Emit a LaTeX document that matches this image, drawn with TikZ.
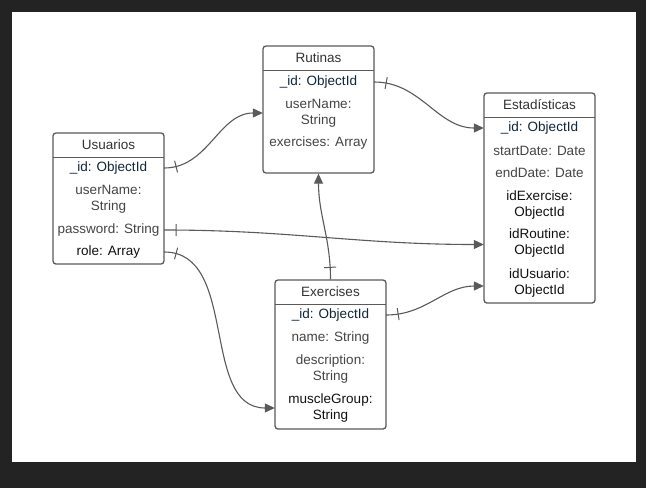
\documentclass[tikz,border=0pt]{standalone}
\usepackage{fontspec}
\setmainfont{Liberation Sans}
\usetikzlibrary{arrows.meta,decorations.markings}
\definecolor{bgdark}{HTML}{232323}
\definecolor{edge}{HTML}{5A5A5A}
\definecolor{ttlc}{HTML}{333333}
\definecolor{idc}{HTML}{10263A}
\definecolor{fldc}{HTML}{454545}
\definecolor{blk}{HTML}{111111}
\tikzset{
    tbl/.style={draw=edge, line width=1.3pt, rounded corners=3pt, minimum width=111pt, inner sep=0pt},
    ttl/.style={anchor=north, minimum width=111pt, minimum height=25pt, inner sep=0pt, text=ttlc},
    fld/.style={minimum width=111pt, inner sep=0pt, align=center, text=fldc, yshift=-1pt},
    idf/.style={fld, text=idc},
    keyf/.style={fld, text=blk},
    onebar/.style={postaction={decorate, decoration={markings,
        mark=at position 12pt with {\draw[-, edge, line width=1pt] (0pt,-6pt) -- (0pt,6pt);}}}},
    conn/.style={draw=edge, line width=1.1pt, -{Triangle[length=10pt,width=9pt]}, onebar}
}
\begin{document}
\begin{tikzpicture}[x=1pt, y=-1pt, font=\fontsize{13.5}{16}\selectfont]
        \fill[bgdark] (0,0) rectangle (646,488);
        \fill[white] (12,12) rectangle (636,462);
        \useasboundingbox (0,0) rectangle (646,488);

        \node(usu) at (108.5,198.5) [tbl, minimum height=131pt]{};
        \node(usu-t) at (usu.north) [ttl]{Usuarios};
        \draw[edge, line width=1.3pt] (usu-t.south west) -- (usu-t.south east);
        \node(usu-id) at (108.5,167) [idf]{\_id: ObjectId};
        \node(usu-name) at (108.5,198) [fld]{userName:\\String};
        \node(usu-pw) at (108.5,229) [fld]{password: String};
        \node(usu-role) at (108.5,251) [keyf]{role: Array};

        \node(rut) at (318.5,109.5) [tbl, minimum height=127pt]{};
        \node(rut-t) at (rut.north) [ttl]{Rutinas};
        \draw[edge, line width=1.3pt] (rut-t.south west) -- (rut-t.south east);
        \node(rut-id) at (318.5,81) [idf]{\_id: ObjectId};
        \node(rut-name) at (318.5,112) [fld]{userName:\\String};
        \node(rut-ex) at (318.5,142) [fld]{exercises: Array};

        \node(est) at (539.5,198) [tbl, minimum height=210pt]{};
        \node(est-t) at (est.north) [ttl]{Estadísticas};
        \draw[edge, line width=1.3pt] (est-t.south west) -- (est-t.south east);
        \node(est-id) at (539.5,127) [idf]{\_id: ObjectId};
        \node(est-start) at (539.5,150) [fld]{startDate: Date};
        \node(est-end) at (539.5,172) [fld]{endDate: Date};
        \node(est-ex) at (539.5,204) [keyf]{idExercise:\\ObjectId};
        \node(est-rout) at (539.5,242.5) [keyf]{idRoutine:\\ObjectId};
        \node(est-usu) at (539.5,282) [keyf]{idUsuario:\\ObjectId};

        \node(exe) at (330.5,354.5) [tbl, minimum height=149pt]{};
        \node(exe-t) at (exe.north) [ttl]{Exercises};
        \draw[edge, line width=1.3pt] (exe-t.south west) -- (exe-t.south east);
        \node(exe-id) at (330.5,314) [idf]{\_id: ObjectId};
        \node(exe-name) at (330.5,337) [fld]{name: String};
        \node(exe-desc) at (330.5,368) [fld]{description:\\String};
        \node(exe-mg) at (330.5,407) [keyf]{muscleGroup:\\String};

        \draw[conn] (usu-id.east) to[out=0,in=180] (rut-name.west);
        \draw[conn] (rut-id.east) to[out=0,in=180] (est-id.west);
        \draw[conn] (usu-pw.east) to[out=0,in=180] ([yshift=-1pt]est-rout.west);
        \draw[conn] (usu-role.east) to[out=0,in=180] (exe-mg.west);
        \draw[conn] (exe.north) to[out=90,in=-90] (rut.south);
        \draw[conn] (exe-id.east) to[out=0,in=180] ([yshift=-3pt]est-usu.west);
    \end{tikzpicture}
\end{document}
